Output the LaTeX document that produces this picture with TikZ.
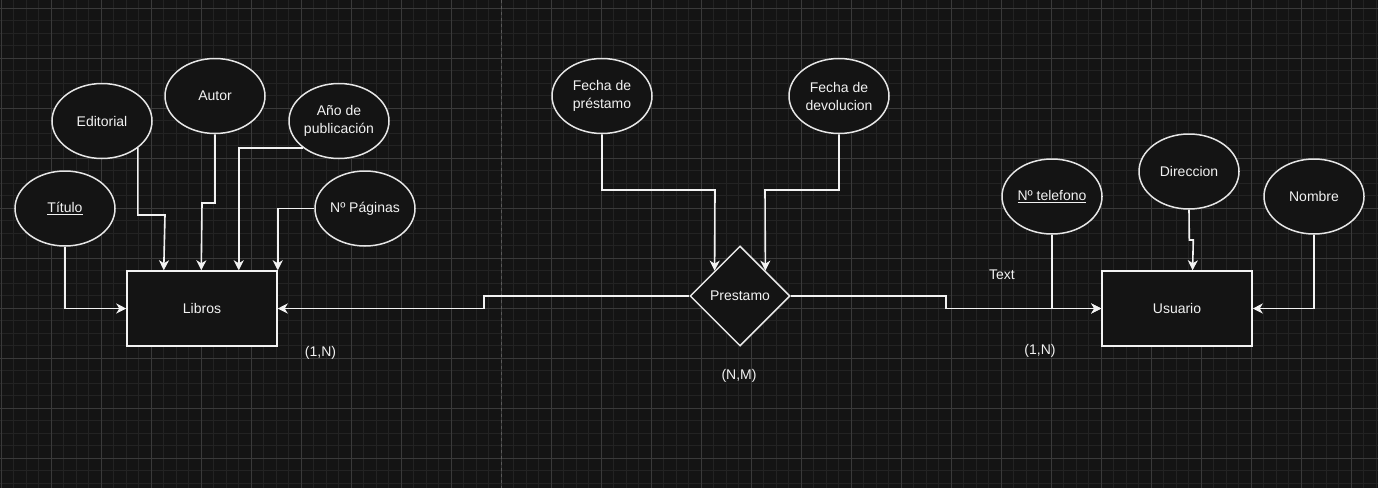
\documentclass[tikz,border=0pt]{standalone}
\usepackage{fontspec}
\setmainfont{Liberation Sans}
\usetikzlibrary{shapes.geometric,arrows.meta,calc}
\definecolor{bgc}{HTML}{141414}
\definecolor{gminor}{HTML}{232323}
\definecolor{gmajor}{HTML}{3A3A3A}
\definecolor{fg}{HTML}{F2F2F2}
\definecolor{edgec}{HTML}{E6E6E6}
\begin{document}
\begin{tikzpicture}[x=1pt,y=-1pt,
  every node/.style={font=\fontsize{14}{18}\selectfont, text=fg},
  attr/.style={ellipse, draw=edgec, line width=1.5pt, fill=bgc, minimum width=100pt, minimum height=75pt, inner sep=0pt, align=center},
  entity/.style={rectangle, draw=fg, line width=1.5pt, fill=bgc, minimum width=150pt, minimum height=75pt, inner sep=0pt},
  rel/.style={diamond, draw=edgec, line width=1.5pt, fill=bgc, minimum width=100pt, minimum height=100pt, inner sep=0pt, aspect=1},
  conn/.style={draw=fg, line width=1.6pt, -{Stealth[length=10pt,width=10pt,inset=3pt]}},
  lbl/.style={inner sep=0pt}
]
\fill[bgc] (0,0) rectangle (1378,488);
\useasboundingbox (0,0) rectangle (1378,488);
\foreach \i in {0,...,110} {\draw[gminor, line width=1pt] ({1+12.5*\i},0) -- ({1+12.5*\i},488);}
\foreach \j in {0,...,39} {\draw[gminor, line width=1pt] (0,{8.3+12.5*\j}) -- (1378,{8.3+12.5*\j});}
\foreach \i in {0,...,27} {\draw[gmajor, line width=1pt] ({1+50*\i},0) -- ({1+50*\i},488);}
\foreach \j in {0,...,9} {\draw[gmajor, line width=1pt] (0,{8.3+50*\j}) -- (1378,{8.3+50*\j});}
\draw[gray!70!black, line width=1pt, dash pattern=on 3pt off 3pt] (501.5,0) -- (501.5,488);

% Libros side
\node[entity] (libros) at (202,308.5) {Libros};
\node[attr] (titulo) at (65,208.5) {\underline{Título}};
\node[attr] (editorial) at (102,121) {Editorial};
\node[attr] (autor) at (215,96) {Autor};
\node[attr] (ano) at (339,121) {Año de\\publicación};
\node[attr] (paginas) at (365,208.5) {Nº Páginas};

% Relationship
\node[rel] (prestamo) at (740,296) {Prestamo};
\node[attr] (fprest) at (602,96) {Fecha de\\préstamo};
\node[attr] (fdev) at (839,96) {Fecha de\\devolucion};

% Usuario side
\node[entity] (usuario) at (1177,308.5) {Usuario};
\node[attr] (tel) at (1052,196.5) {\underline{Nº telefono}};
\node[attr] (dir) at (1189,171.5) {Direccion};
\node[attr] (nombre) at (1314,196.5) {Nombre};

% connectors Libros
\draw[conn] (titulo.south) |- (libros.west);
\draw[conn] (editorial.south east) |- (165,215) -- ([xshift=37.5pt]libros.north west);
\draw[conn] (autor.south) |- (202,203) -- ([xshift=75pt]libros.north west);
\draw[conn] (ano.south west) -| ([xshift=112.5pt]libros.north west);
\draw[conn] (paginas.west) -| (libros.north east);
\draw[conn] (prestamo.west) -- (484,296) -- (484,308.5) -- (libros.east);

% connectors Prestamo
\draw[conn] (fprest.south) |- (715,190) -- ($(prestamo.north)!0.5!(prestamo.west)$);
\draw[conn] (fdev.south) |- (765,190) -- ($(prestamo.north)!0.5!(prestamo.east)$);
\draw[conn] (prestamo.east) -- (946,296) -- (946,308.5) -- (usuario.west);

% connectors Usuario
\draw[conn] (tel.south) |- (usuario.west);
\draw[conn] (dir.south) -- (1189.3,240) -- (1193.3,240) -- ([xshift=91.3pt]usuario.north west);
\draw[conn] (nombre.south) |- (usuario.east);

% labels
\node[lbl] (c1) at (320.5,353) {(1,N)};
\node[lbl] (c2) at (739,375.5) {(N,M)};
\node[lbl] (c3) at (1040,350.5) {(1,N)};
\node[lbl] (t1) at (1002,275) {Text};
\end{tikzpicture}
\end{document}
